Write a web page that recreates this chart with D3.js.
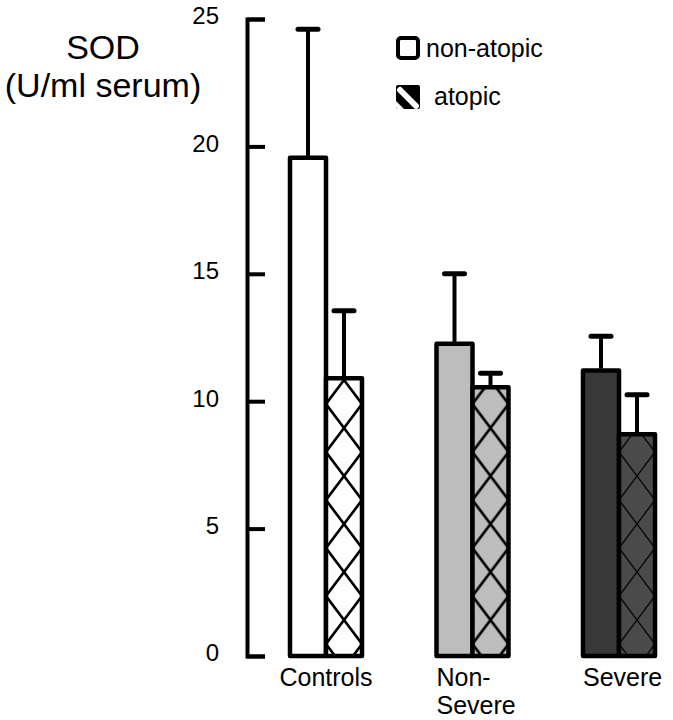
<!DOCTYPE html>
<html>
<head>
<meta charset="utf-8">
<script src="https://cdn.jsdelivr.net/npm/d3@7"></script>
<style>
  html, body { margin: 0; padding: 0; background: #fff; }
  svg text { font-family: "Liberation Sans", Arial, Helvetica, sans-serif; fill: #000; }
</style>
</head>
<body>
<svg id="chart" width="673" height="720"></svg>
<script>
// ---- data ----
const groups = ["Controls", "Non-Severe", "Severe"];
const groupLabels = [["Controls"], ["Non-", "Severe"], ["Severe"]];
const subgroups = ["non-atopic", "atopic"];
const meanNonAtopic = [19.55, 12.25, 11.2];
const meanAtopic = [10.9, 10.55, 8.7];
const sdNonAtopic = [5.05, 2.75, 1.35];
const sdAtopic = [2.65, 0.55, 1.55];
const yTicks = [0, 5, 10, 15, 20, 25];
const yTitle = ["SOD", "(U/ml serum)"];

// ---- styles ----
const fillNonAtopic = ["#ffffff", "#bdbdbd", "#383838"];
const fillAtopic = ["#ffffff", "#bdbdbd", "#4a4a4a"];
const hatchWidth = [2.6, 2.6, 1.3];

const svg = d3.select("#chart");
const y = d3.scaleLinear().domain([0, 25]).range([656, 19]);
const x0 = d3.scalePoint().domain(groups).range([326, 619]);
const x1 = d3.scaleBand().domain(subgroups).range([-36, 36]).padding(0);

const rows = [];
groups.forEach((g, i) => {
  rows.push({g, i, s: "non-atopic", v: meanNonAtopic[i], sd: sdNonAtopic[i], fill: fillNonAtopic[i]});
  rows.push({g, i, s: "atopic", v: meanAtopic[i], sd: sdAtopic[i], fill: fillAtopic[i]});
});

const defs = svg.append("defs");
// hatch patterns (diamond cross-hatch), one per atopic bar
rows.filter(d => d.s === "atopic").forEach(d => {
  const w = x1.bandwidth(), h = 48;
  const px = x0(d.g) + x1(d.s);
  const p = defs.append("pattern")
    .attr("id", "hatch" + d.i)
    .attr("patternUnits", "userSpaceOnUse")
    .attr("x", px).attr("y", 620 - h / 2)
    .attr("width", w).attr("height", h);
  p.append("rect").attr("width", w).attr("height", h).attr("fill", d.fill);
  p.append("path")
    .attr("d", `M0,0L${w},${h}M${w},0L0,${h}M${-w},0L${w},${2*h}M0,${-h}L${2*w},${h}M${2*w},0L0,${2*h}M${w},${-h}L${-w},${h}`)
    .attr("stroke", "#000").attr("stroke-width", hatchWidth[d.i]).attr("fill", "none");
});

// bars
svg.append("g").selectAll("rect").data(rows).join("rect")
  .attr("x", d => x0(d.g) + x1(d.s))
  .attr("y", d => y(d.v))
  .attr("width", x1.bandwidth())
  .attr("height", d => y(0) - y(d.v))
  .attr("fill", d => d.s === "atopic" ? `url(#hatch${d.i})` : d.fill)
  .attr("stroke", "#000")
  .attr("stroke-width", 4.5)
  .attr("stroke-linejoin", "round");

// error bars
const eb = svg.append("g").selectAll("g").data(rows).join("g");
eb.append("line")
  .attr("x1", d => x0(d.g) + x1(d.s) + x1.bandwidth() / 2)
  .attr("x2", d => x0(d.g) + x1(d.s) + x1.bandwidth() / 2)
  .attr("y1", d => y(d.v) - 2)
  .attr("y2", d => y(d.v + d.sd))
  .attr("stroke", "#000").attr("stroke-width", 4);
eb.append("line")
  .attr("x1", d => x0(d.g) + x1(d.s) + x1.bandwidth() / 2 - 10)
  .attr("x2", d => x0(d.g) + x1(d.s) + x1.bandwidth() / 2 + 10)
  .attr("y1", d => y(d.v + d.sd))
  .attr("y2", d => y(d.v + d.sd))
  .attr("stroke", "#000").attr("stroke-width", 5).attr("stroke-linecap", "round");

// y axis
const axis = d3.axisLeft(y).tickValues(yTicks).tickSize(-18).tickSizeOuter(-18).tickPadding(28);
const ga = svg.append("g").attr("transform", "translate(247,0)").call(axis);
ga.selectAll("path, line").attr("stroke", "#000").attr("stroke-width", 4);
ga.selectAll("text").attr("font-size", 24).attr("dy", "0.2em")
  .style("font-family", '"Liberation Sans", Arial, sans-serif').attr("fill", "#000");

// y title
svg.append("g").selectAll("text").data(yTitle).join("text")
  .attr("x", 103).attr("y", (d, i) => 59 + i * 38)
  .attr("text-anchor", "middle").attr("font-size", 34)
  .text(d => d);

// category labels (one text element per line)
const labelLines = [];
groups.forEach((g, i) => groupLabels[i].forEach((t, j) => labelLines.push({g, i, j, t})));
svg.append("g").selectAll("text").data(labelLines).join("text")
  .attr("font-size", 25)
  .attr("text-anchor", d => d.i === 0 ? "middle" : "start")
  .attr("x", d => d.i === 0 ? x0(d.g) : x0(d.g) - 36)
  .attr("y", d => 686 + d.j * 28)
  .text(d => d.t);

// legend
const lg = svg.append("g");
lg.append("rect").attr("x", 398).attr("y", 38).attr("width", 20).attr("height", 20).attr("rx", 3)
  .attr("fill", "#fff").attr("stroke", "#000").attr("stroke-width", 4);
lg.append("text").attr("x", 426).attr("y", 57).attr("font-size", 25).text(subgroups[0]);
const clip = defs.append("clipPath").attr("id", "legclip");
clip.append("rect").attr("x", 396).attr("y", 85).attr("width", 24).attr("height", 24).attr("rx", 2);
lg.append("rect").attr("x", 396).attr("y", 85).attr("width", 24).attr("height", 24).attr("rx", 2).attr("fill", "#000");
lg.append("path").attr("clip-path", "url(#legclip)")
  .attr("d", "M400,90 L416,106")
  .attr("stroke", "#fff").attr("stroke-width", 6).attr("stroke-linecap", "round");
lg.append("path").attr("clip-path", "url(#legclip)")
  .attr("d", "M396,101 L404,109 L396,109 Z").attr("fill", "#fff");
lg.append("text").attr("x", 434).attr("y", 105).attr("font-size", 25).text(subgroups[1]);
</script>
</body>
</html>
